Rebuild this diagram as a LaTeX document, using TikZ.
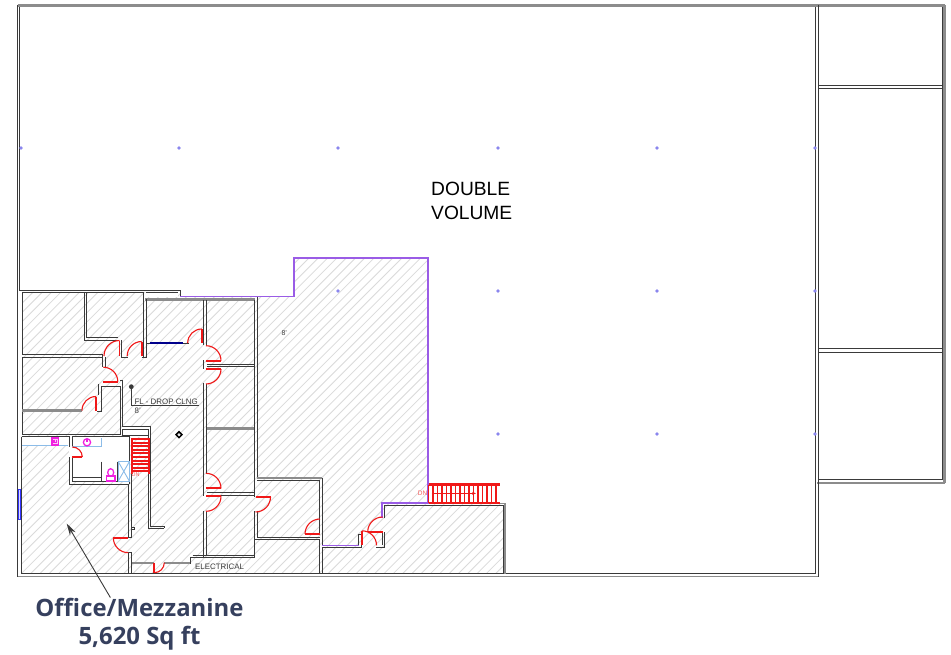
\documentclass[tikz,border=0pt]{standalone}
\usepackage{fontspec}
\setmainfont{Liberation Sans}
\newfontfamily\labelfont{Open Sans}
\usepackage{tikz}
\usetikzlibrary{arrows, arrows.meta, calc, shapes.geometric}
\definecolor{wallgrey}{HTML}{3A3A3A}
\definecolor{bandgrey}{HTML}{8C8C8C}
\definecolor{hatchgrey}{HTML}{DADADA}
\definecolor{linepurple}{HTML}{9A5CE6}
\definecolor{doorred}{HTML}{F01818}
\definecolor{fixturepink}{HTML}{F020E0}
\definecolor{fixtureblue}{HTML}{8CBCE8}
\definecolor{columnblue}{HTML}{8A86EE}
\definecolor{labelnavy}{HTML}{36405E}
\tikzstyle{wall} = [draw=wallgrey, line width=1pt]
\tikzstyle{thinwall} = [draw=wallgrey, line width=0.8pt]
\tikzstyle{band} = [draw=bandgrey, line width=2.6pt]
\tikzstyle{limit} = [draw=linepurple, line width=1.9pt]
\tikzstyle{leaf} = [draw=doorred, line width=1.9pt]
\tikzstyle{swing} = [draw=doorred, line width=1.1pt]
\tikzstyle{tread} = [draw=doorred, line width=1.9pt]
\tikzstyle{fixture} = [draw=fixturepink, line width=1.3pt]
\tikzstyle{basin} = [draw=fixtureblue, line width=0.9pt]
\tikzstyle{column} = [circle, fill=columnblue, inner sep=0pt, minimum size=3.6pt]
\tikzstyle{planlabel} = [inner sep=0pt, text=wallgrey, font=\fontsize{7.9}{9}\selectfont]
\tikzstyle{arrow} = [line width=0.9pt, draw=wallgrey, -{Stealth[length=12pt,width=6.5pt]}]
% hinge x, hinge y, radius, leaf angle, swing end angle
\newcommand{\doorat}[5]{
\draw [leaf] (#1,#2) -- ++(#4:#3pt);
\draw [swing] (#1,#2) ++(#4:#3pt) arc [start angle=#4, end angle=#5, radius=#3pt];
}
\begin{document}
\begin{tikzpicture}[x=1pt, y=-1pt]
\useasboundingbox (0,0) rectangle (951,655);
\fill [white] (0,0) rectangle (951,655);
% hatched floor
\begin{scope}
\clip (22,292) -- (180,292) -- (180,297) -- (294,297) -- (294,258) -- (428,258) -- (428,504) -- (504,504) -- (504,573) -- (22,573) -- cycle;
\foreach \i in {-46,...,56} {
	\draw [hatchgrey, line width=0.8pt] (\i*9.3,660) -- ++(420,-420);
}
\end{scope}
% rooms left blank
\fill [white] (145,293) rectangle (178,297);
\fill [white] (122,427) rectangle (150,437);
\fill [white] (22,437) rectangle (69,445);
\fill [white] (72,437) rectangle (130,481);
\fill [white] (69,437) rectangle (72,484);
% outer shell
\draw [band] (17.5,5.5) -- (944.5,5.5);
\draw [band] (944.5,5.5) -- (944.5,483);
\draw [band, line width=1.6pt] (817,482.7) -- (944.5,482.7);
\draw [band, line width=1.3pt] (17.5,576.7) -- (818.5,576.7);
\draw [wall] (17.5,5.5) -- (17.5,577);
\draw [wall] (19.5,7) -- (19.5,290.3) -- (180,290.3) -- (180,297);
\draw [wall] (815.8,7) -- (815.8,573.5) -- (22,573.5);
\draw [wall] (818.6,5.5) -- (818.6,577);
% side bays
\draw [wall] (818.5,85.4) -- (943,85.4);
\draw [wall] (818.5,88.4) -- (943,88.4);
\draw [wall] (818.5,348) -- (943,348);
\draw [wall] (818.5,352) -- (943,352);
\draw [wall] (818.5,479.8) -- (943,479.8);
\draw [wall] (942.6,7) -- (942.6,480);
% north rooms
\draw [band] (145,299.3) -- (255,299.3);
\draw [wall] (22,292.7) -- (143.8,292.7);
\draw [thinwall] (145.5,292.7) -- (178,292.7);
\draw [wall] (22,292.7) -- (22,354.8) -- (102.8,354.8) -- (102.8,367);
\draw [wall] (105,357) -- (105,367);
\draw [wall] (22,357.2) -- (102.8,357.2);
\draw [wall] (22,357.2) -- (22,434.5) -- (120,434.5) -- (120,386) -- (101.2,386) -- (101.2,411.5) -- (96.5,411.5);
\draw [wall] (98.8,384) -- (98.8,395);
\draw [band] (22,410.7) -- (82,410.7);
\draw [wall] (84,292.7) -- (84,340) -- (119,340);
\draw [wall] (86.3,292.7) -- (86.3,337.6) -- (118,337.6);
\draw [wall] (121.7,340) -- (121.7,357) -- (127.5,357);
\draw [wall] (141.7,357) -- (146.3,357) -- (146.3,299);
\draw [wall] (143.8,292.7) -- (143.8,356.5);
\draw [wall] (146,343.8) -- (188.5,343.8);
\draw [line width=1.8pt, draw=blue!55!black] (150,343.3) -- (183,343.3);
\draw [wall] (203.8,300) -- (203.8,345);
\draw [wall] (206.5,300) -- (206.5,346);
\draw [wall] (203.8,360) -- (203.8,369);
\draw [wall] (203.8,383) -- (203.8,496);
\draw [wall] (206.5,383.5) -- (206.5,474.3);
\draw [wall] (203.8,510.7) -- (203.8,557.5);
\draw [wall] (206.5,510.7) -- (206.5,555);
\draw [wall] (254.5,300) -- (254.5,479);
\draw [wall] (257,297) -- (257,477);
\draw [wall] (206.5,364.3) -- (254,364.3);
\draw [wall] (206.5,366.9) -- (254,366.9);
\draw [band] (206.5,428.7) -- (254,428.7);
\draw [wall] (206.5,492.8) -- (254,492.8);
\draw [wall] (206.5,495.2) -- (254,495.2);
% core
\draw [wall] (120,380) -- (122.3,380) -- (122.3,426.7) -- (150.7,426.7);
\draw [wall] (122.3,429) -- (148.5,429) -- (148.5,435) -- (122.3,435) -- cycle;
\draw [wall] (148.5,435) -- (148.5,528.4) -- (164.3,528.4);
\draw [wall] (150.9,426.7) -- (150.9,526) -- (164.3,526) -- (164.3,528.4);
% toilets
\draw [wall] (21.5,436.7) -- (69,436.7) -- (69,447);
\draw [wall] (72.3,436.7) -- (129.7,436.7) -- (129.7,484.3);
\draw [wall] (72.3,436.7) -- (72.3,447);
\draw [wall] (69,457) -- (69,484.3);
\draw [wall] (72.3,457) -- (72.3,481) -- (101.7,481);
\draw [wall] (72.3,477) -- (101.7,477);
\draw [wall] (101.7,461.5) -- (101.7,481);
\draw [wall] (117,461.5) -- (117,481) -- (129.7,481);
\draw [thinwall] (101.7,481) -- (117,481);
\draw [wall] (69,484.3) -- (128.3,484.3) -- (128.3,537.5);
\draw [wall] (21.5,436.7) -- (21.5,573.5);
\draw [wall] (128.3,552) -- (128.3,573.5);
\draw [wall] (131.7,463) -- (131.7,537.5) -- (128.3,537.5);
\draw [wall] (131.7,552) -- (128.3,552);
\draw [wall] (131.7,552) -- (131.7,573.5);
\draw [thinwall] (131.7,527.5) -- (134,527.5) -- (134,529.5) -- (131.7,529.5);
\draw [basin] (21.5,445.3) -- (68,445.3);
\draw [basin] (72.3,446.7) -- (101.7,446.7) -- (101.7,438);
% south rooms
\draw [band] (131.7,563) -- (154,563);
\draw [band] (164,563) -- (191,563);
\draw [wall] (190.7,563.5) -- (190.7,557.5) -- (254.5,557.5) -- (254.5,510.7);
\draw [wall] (192.7,555) -- (254,555);
\draw [wall] (254.5,479) -- (254.5,497);
\draw [wall] (257,480.3) -- (319.8,480.3) -- (319.8,534);
\draw [band] (256.5,478) -- (322,478);
\draw [wall] (257,510.7) -- (257,537) -- (319.8,537);
\draw [wall] (254.5,539.5) -- (319.8,539.5) -- (319.8,573.5);
\draw [wall] (322,478) -- (322,545);
\draw [wall] (322,547.6) -- (322,573.5);
\draw [wall] (322,547.6) -- (361,547.6) -- (361,534) -- (358.5,534) -- (358.5,545.3);
\draw [wall] (376,547.6) -- (384.6,547.6) -- (384.6,532);
\draw [wall] (382.4,532) -- (382.4,545.3);
\draw [wall] (384.6,518.3) -- (384.6,505.3) -- (503,505.3) -- (503,573.5);
\draw [band, line width=1.5pt] (428.3,503.6) -- (505.2,503.6) -- (505.2,573.5);
% purple limit
\draw [limit] (180,296.5) -- (294,296.5) -- (294,257.8) -- (428.3,257.8) -- (428.3,503.3) -- (382.3,503.3) -- (382.3,518.3);
\draw [limit, line width=1.3pt] (322,545.3) -- (358.5,545.3);
% doors
\doorat{119.5}{356}{15.5}{90}{180}
\doorat{141.7}{356}{14.5}{90}{180}
\doorat{201.7}{343}{14}{90}{180}
\doorat{206}{360.7}{15}{0}{90}
\doorat{206}{369}{15}{0}{-90}
\doorat{103.3}{381.7}{14.5}{0}{90}
\doorat{96}{410.5}{14}{90}{180}
\doorat{72.3}{457}{10}{0}{90}
\doorat{206}{488.3}{15}{0}{90}
\doorat{206}{496.3}{15}{0}{-90}
\doorat{128.3}{537.7}{15}{180}{270}
\doorat{154.3}{562.7}{10}{-90}{0}
\doorat{255.5}{497}{15}{0}{-90}
\doorat{320}{534}{15}{180}{90}
\doorat{382.7}{532}{15}{180}{90}
\doorat{362}{545.3}{14.5}{90}{0}
% stairs
\foreach \y in {439,442.6,...,474} {
	\draw [tread] (131.7,\y) -- (149.3,\y);
}
\draw [tread] (131.7,438) -- (131.7,474.3);
\draw [tread] (149.3,438) -- (149.3,474.3);
\draw [leaf, line width=2.2pt] (428.5,484.5) -- (500,484.5);
\draw [leaf, line width=2.2pt] (428.5,503) -- (500,503);
\foreach \x in {428.5,433,...,500} {
	\draw [doorred, line width=1.2pt] (\x,484.5) -- (\x,503);
}
\draw [doorred, line width=1.6pt] (428.5,484.5) -- (428.5,503);
\coordinate (flighttail) at (431.7,493.4);
\coordinate (flighttip) at (476,493.4);
\draw [doorred, line width=0.5pt, -{Stealth[length=4pt,width=3pt]}] (flighttail) -- (flighttip);
\node (flightdn) [inner sep=0pt, text=doorred!70, font=\fontsize{6.5}{7}\selectfont] at (422.5,493.4) {DN};
\node (coredn) [inner sep=0pt, text=doorred!70, font=\fontsize{5.5}{6}\selectfont] at (135.5,474.5) {DN};
% fixtures
\draw [fixture, fill=fixturepink!25] (52,438) rectangle (58.5,445);
\draw [fixture] (54,439.5) -- (54,442.5) -- (56.5,442.5) -- (56.5,439.5);
\draw [fixture] (87,442.3) circle (3.6pt);
\draw [fixture] (87,439) -- (87,442.3);
\draw [fixture] (106.3,481) -- (106.3,476) -- (115,476) -- (115,481) -- cycle;
\draw [fixture] (110.7,472.5) ellipse (3pt and 3.8pt);
\draw [basin] (118.3,461.7) rectangle (129.3,481);
\draw [basin] (118.3,461.7) -- (129.3,481);
\draw [basin] (129.3,461.7) -- (118.3,481);
\draw [blue!80, fill=blue!15, line width=0.8pt] (18.3,489.3) rectangle (20.7,519.3);
% columns
\foreach \x in {21,179,338,498,657,815} {
	\node [column] at (\x,148) {};
}
\foreach \x in {338,498,657,815} {
	\node [column] at (\x,291) {};
}
\foreach \x in {498,657,815} {
	\node [column] at (\x,434) {};
}
% drop ceiling tag
\node (ceilingtag) [circle, fill=wallgrey, inner sep=0pt, minimum size=4.8pt] at (131.3,386.7) {};
\coordinate (ceilingend) at (198.7,405.8);
\draw [thinwall] (ceilingtag) |- (ceilingend);
\node (ceilinglabel) [planlabel, anchor=west] at (134.3,402) {FL - DROP CLNG};
\node (ceilingheight) [planlabel, anchor=west] at (134.5,410.5) {8'};
\node (floorheight) [planlabel, font=\fontsize{7}{8}\selectfont] at (284.3,332.7) {8'};
\node (electrical) [planlabel, anchor=west] at (195,567) {ELECTRICAL};
\node (marker) [diamond, draw=black, line width=1.5pt, inner sep=0pt, minimum size=6.5pt] at (179,434.7) {};
% labels
\node (doublevolume) [inner sep=0pt, anchor=north west, align=left, text=black, font=\fontsize{19.2}{24}\selectfont] at (431,182) {DOUBLE\\VOLUME};
\node (officelabel) [inner sep=0pt, text=labelnavy, font=\labelfont\bfseries\fontsize{23.9}{28}\selectfont] at (139.5,607) {Office/Mezzanine};
\node (officearea) [inner sep=0pt, text=labelnavy, font=\labelfont\bfseries\fontsize{23.9}{28}\selectfont] at (139.5,638) {5,620 Sq ft};
\coordinate (officepoint) at (66.7,523.5);
\draw [arrow] (officelabel.162) -- (officepoint);
\end{tikzpicture}
\end{document}
